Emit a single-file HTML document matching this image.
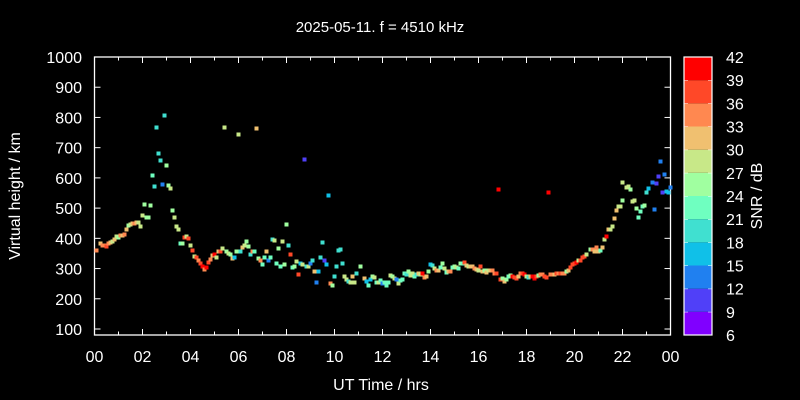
<!DOCTYPE html>
<html><head><meta charset="utf-8"><style>
html,body{margin:0;padding:0;background:#000;}
svg{display:block;font-family:"Liberation Sans",sans-serif;}
</style></head><body>
<svg id="s" width="800" height="400" xmlns="http://www.w3.org/2000/svg">
<rect width="800" height="400" fill="#000"/>
<text x="380" y="32" fill="#fff" font-size="15" text-anchor="middle">2025-05-11. f = 4510 kHz</text>
<text x="381" y="390" fill="#fff" font-size="16" text-anchor="middle">UT Time / hrs</text>
<text transform="translate(20,196) rotate(-90)" fill="#fff" font-size="16" text-anchor="middle">Virtual height / km</text>
<text transform="translate(762,196) rotate(-90)" fill="#fff" font-size="16" text-anchor="middle">SNR / dB</text>
<g id="g"></g>
</svg>
<script>
const g=document.getElementById('g');let h='';
const L=94.5,R=670.5,T=57,B=335;
h+=`<rect x="${L}" y="${T}" width="${R-L}" height="${B-T}" fill="none" stroke="#fff" stroke-width="1.3"/>`;
for(let v=100;v<=1000;v+=100){const y=57+(1000-v)*272/900;
h+=`<line x1="${L}" x2="${L+6}" y1="${y}" y2="${y}" stroke="#fff"/><line x1="${R-6}" x2="${R}" y1="${y}" y2="${y}" stroke="#fff"/>`;
h+=`<text x="82" y="${y+6}" fill="#fff" font-size="16" text-anchor="end">${v}</text>`;}
for(let t=0;t<=24;t++){const x=L+t*24;const len=t%2?3.5:6;
h+=`<line x1="${x}" x2="${x}" y1="${B}" y2="${B-len}" stroke="#fff"/><line x1="${x}" x2="${x}" y1="${T}" y2="${T+len}" stroke="#fff"/>`;
if(t%2==0)h+=`<text x="${x}" y="362" fill="#fff" font-size="16" text-anchor="middle">${String(t%24).padStart(2,'0')}</text>`;}
const C={R:'#ff0000',O:'#ff4828',o:'#ff8850',Y:'#f0c070',L:'#c8e888',G:'#a0ffa0',M:'#6fffc0',T:'#40e0d0',C:'#10c0e8',B:'#2080f0',V:'#5040f8',P:'#8000ff'};
const bands=['P','V','B','C','T','M','G','L','Y','o','O','R'];
const bh=(B-T)/12;
bands.forEach((k,i)=>{const y=B-(i+1)*bh;h+=`<rect x="684" y="${y}" width="28" height="${bh}" fill="${C[k]}"/>`;
h+=`<line x1="684" x2="688" y1="${y}" y2="${y}" stroke="#fff"/><line x1="708" x2="712" y1="${y}" y2="${y}" stroke="#fff"/>`;});
h+=`<rect x="684" y="${T}" width="28" height="${B-T}" fill="none" stroke="#fff" stroke-width="1.2"/>`;
for(let i=0;i<=12;i++){const y=B-i*bh;h+=`<text x="726" y="${y+6}" fill="#fff" font-size="16">${6+3*i}</text>`;}
const pts=`95,249,o 99,242,Y 101,244,o 103,244,o 105,245,O 107,242,o 109,241,Y 111,240,L 113,238,Y 115,235,L 117,236,G 119,234,o 121,234,Y 123,233,o 125,228,Y 127,224,G 129,223,L 131,222,Y 133,222,o 135,221,Y 137,221,L 139,225,L 141,214,L 143,203,G 145,216,G 147,216,G 149,204,G 151,174,M 153,185,T 155,126,T 157,152,T 159,159,T 161,183,B 163,114,T 165,164,G 167,184,G 169,187,L 171,209,G 173,216,L 175,225,L 177,228,L 179,242,M 181,242,G 183,236,O 185,235,L 187,237,O 189,244,L 191,249,O 193,255,L 195,256,O 197,259,o 199,262,O 201,265,R 203,268,o 205,266,R 207,261,O 209,258,o 211,254,Y 213,253,R 215,256,L 217,250,Y 219,250,O 221,247,L 223,126,L 225,250,G 227,252,L 229,253,G 231,257,Y 233,256,C 235,250,G 237,133,L 239,250,T 241,246,Y 243,244,L 245,240,G 247,245,G 249,253,T 251,250,o 253,250,M 255,127,Y 257,257,G 259,259,o 261,263,M 263,256,M 265,250,Y 267,259,B 269,256,M 271,238,T 273,239,L 275,262,M 277,247,G 279,265,M 281,240,L 283,263,G 285,223,G 287,244,T 289,253,O 291,266,M 293,265,G 295,260,L 297,273,O 299,262,C 301,263,L 303,158,V 305,265,T 307,265,L 309,262,B 311,259,T 313,270,Y 315,281,B 317,270,C 319,256,T 321,241,T 323,259,V 325,263,C 327,194,C 329,282,o 331,284,G 333,275,T 335,265,T 337,249,T 339,248,T 341,262,T 343,275,L 345,278,L 347,280,T 349,281,L 351,275,Y 353,281,L 355,272,T 359,265,G 363,277,Y 365,280,C 367,284,M 369,278,C 371,275,G 373,276,L 375,281,M 377,281,L 379,279,M 381,282,B 383,281,M 385,284,M 387,281,M 389,274,L 391,275,G 393,277,L 395,278,B 397,282,L 399,279,M 401,278,M 403,272,M 405,273,T 407,270,G 409,274,L 411,272,L 413,275,M 415,273,T 417,272,Y 419,273,L 421,272,R 423,276,o 425,275,Y 427,270,G 429,263,C 431,264,T 433,267,L 435,269,o 437,269,Y 439,266,M 441,262,G 443,267,L 445,271,M 447,270,Y 449,270,o 451,266,M 453,265,G 455,266,L 457,267,M 459,262,G 461,262,M 463,261,O 465,264,Y 467,265,L 469,265,Y 471,265,Y 473,267,o 475,268,Y 477,269,L 479,265,O 481,270,Y 483,269,G 485,271,Y 487,269,L 489,269,Y 491,269,o 493,272,o 495,272,O 497,188,R 499,278,O 501,277,G 503,280,Y 505,278,G 507,275,M 509,274,G 511,275,R 513,276,O 515,277,O 517,275,Y 519,272,o 521,272,O 523,273,R 525,275,L 527,276,T 529,275,Y 531,275,R 533,277,R 535,275,O 537,274,G 539,273,o 541,273,o 543,275,O 545,276,O 547,191,R 549,273,o 551,273,o 553,273,Y 555,272,O 557,272,o 559,272,O 561,272,o 563,272,o 565,270,G 567,269,Y 569,266,O 571,263,O 573,262,O 575,261,R 577,259,L 579,259,O 581,256,O 583,255,O 585,253,L 589,248,G 591,248,o 593,250,Y 595,246,o 597,250,Y 599,249,M 601,246,Y 603,238,L 605,235,R 607,228,Y 609,228,L 611,225,L 613,217,Y 615,209,Y 617,205,L 619,205,L 621,199,G 621,181,L 625,186,L 627,185,L 629,188,G 631,200,L 633,199,L 635,207,G 637,216,M 639,210,M 641,205,M 643,204,G 645,191,T 647,187,C 651,181,B 653,208,B 655,182,V 657,175,V 659,160,B 661,191,V 663,173,B 665,190,C 667,191,C 669,186,B`;
pts.split(' ').forEach(p=>{const [x,y,c]=p.split(',');h+=`<rect x="${+x-0.5}" y="${+y-0.5}" width="4" height="4" fill="${C[c]}"/>`;});
g.innerHTML=h;
</script>
</body></html>
